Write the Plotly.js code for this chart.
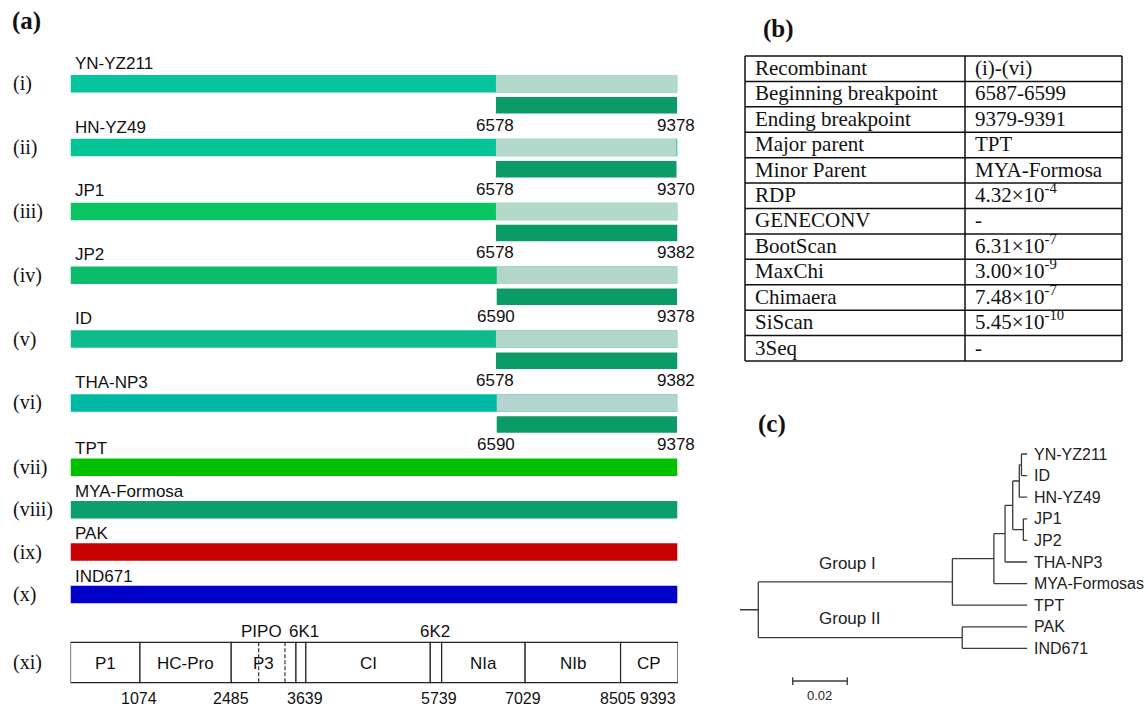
<!DOCTYPE html>
<html><head><meta charset="utf-8">
<script src="https://cdn.plot.ly/plotly-3.0.1.min.js"></script>
<style>html,body{margin:0;padding:0;background:#fff}#chart{width:1148px;height:707px}</style>
</head><body><div id="chart"></div>
<script>
// ---------------- DATA ----------------
const genomeLength = 9393;
const recombNames = ['YN-YZ211','HN-YZ49','JP1','JP2','ID','THA-NP3'];
const recombNumerals = ['(i)','(ii)','(iii)','(iv)','(v)','(vi)'];
const recombStart = [6578,6578,6578,6590,6578,6590];
const recombEnd = [9378,9370,9382,9378,9382,9378];
const recombColors = ['#06C49C','#05C596','#0AC463','#0BBD6D','#0FBA8D','#00B9A4'];
const recombLightColors = ['#B3D8CC','#B3D8CC','#B5D9C8','#B3D6C8','#B3D6CB','#B2D5D0'];
const minorColor = '#0B9B69';
const parentNames = ['TPT','MYA-Formosa','PAK','IND671'];
const parentNumerals = ['(vii)','(viii)','(ix)','(x)'];
const parentColors = ['#00C000','#0C9E6C','#C80000','#0000C8'];
const geneNames = ['P1','HC-Pro','P3','6K1','CI','6K2','NIa','NIb','CP'];
const geneStarts = [0,1074,2485,3486,3639,5563,5739,7029,8505];
const geneEnds = [1074,2485,3486,3639,5563,5739,7029,8505,9393];
const pipoBounds = [2910,3316];
const boundaryTicks = [1074,2485,3639,5739,7029,8505,9393];

const tableMethods = ['Recombinant','Beginning breakpoint','Ending breakpoint','Major parent','Minor Parent','RDP','GENECONV','BootScan','MaxChi','Chimaera','SiScan','3Seq'];
const tableValues = ['(i)-(vi)','6587-6599','9379-9391','TPT','MYA-Formosa','4.32×10<sup>-4</sup>','-','6.31×10<sup>-7</sup>','3.00×10<sup>-9</sup>','7.48×10<sup>-7</sup>','5.45×10<sup>-10</sup>','-'];

const treeNodes   = ['root','G1','G2','N3','N4','N5','NYN','NID','NJP','YN-YZ211','ID','HN-YZ49','JP1','JP2','THA-NP3','MYA-Formosas','TPT','PAK','IND671'];
const treeParents = [null,'root','root','G1','N3','N4','N5','NYN','N5','NID','NID','NYN','NJP','NJP','N4','N3','G1','G2','G2'];
const treeDepths  = [0.0067,0.0778,0.0814,0.0930,0.0971,0.0999,0.1023,0.1031,0.1038,0.1052,0.1052,0.1052,0.1052,0.1052,0.1052,0.1052,0.1052,0.1052,0.1052];
const treeGroups = ['Group I','Group II'];
const scaleBarLength = 0.02;

// ---------------- LAYOUT CONSTANTS ----------------
const W = 1148, H = 707;
const SANS = 'Liberation Sans, Arial, sans-serif';
const SERIF = 'Liberation Serif, Times New Roman, serif';
const recombY = recombNames.map((_, k) => 83.7 + 63.85 * k);
const minorY = recombY.map(y => y + 21.6);
const parentY = parentNames.map((_, k) => 467.3 + 42.4 * k);
const boxY = 662.5, boxH = 40.4;
const barEnd = Math.max(...recombEnd);

const traces = [];
const ann = [];
const noHover = {hoverinfo: 'skip'};

// recombinant major-parent backgrounds
traces.push(Object.assign({type:'bar', orientation:'h', xaxis:'x', yaxis:'y',
  y: recombY, x: recombY.map(() => barEnd), base: recombY.map(() => 0), width: 17.5,
  marker:{color: recombColors, line:{width:0}}}, noHover));
// recombinant region (light)
traces.push(Object.assign({type:'bar', orientation:'h', xaxis:'x', yaxis:'y',
  y: recombY, x: recombStart.map((s, i) => recombEnd[i] - s), base: recombStart, width: 17.5,
  marker:{color: recombLightColors, line:{width:0}}}, noHover));
// minor parent bars
traces.push(Object.assign({type:'bar', orientation:'h', xaxis:'x', yaxis:'y',
  y: minorY, x: recombStart.map((s, i) => recombEnd[i] - s), base: recombStart, width: 16.5,
  marker:{color: minorColor, line:{width:0}}}, noHover));
// parent bars
traces.push(Object.assign({type:'bar', orientation:'h', xaxis:'x', yaxis:'y',
  y: parentY, x: parentY.map(() => barEnd), base: parentY.map(() => 0), width: 17.5,
  marker:{color: parentColors, line:{width:0}}}, noHover));
// genome map segments
traces.push(Object.assign({type:'bar', orientation:'h', xaxis:'x', yaxis:'y',
  y: geneNames.map(() => boxY), x: geneStarts.map((s, i) => geneEnds[i] - s), base: geneStarts, width: boxH,
  marker:{color:'#ffffff', line:{color:'#222', width:1.2}}}, noHover));
// PIPO dashed lines
const pipoX = [], pipoY = [];
pipoBounds.forEach(b => { pipoX.push(b, b, null); pipoY.push(boxY - boxH/2, boxY + boxH/2, null); });
traces.push(Object.assign({type:'scatter', mode:'lines', xaxis:'x', yaxis:'y', x: pipoX, y: pipoY,
  line:{color:'#222', width:1.1, dash:'4px,2px'}}, noHover));

// labels of panel (a)
const aFont = {family:SANS, size:17, color:'#111'};
const rFont = {family:SERIF, size:20, color:'#111'};
function txt(x, y, text, font, o) {
  return Object.assign({x, y, text, font, showarrow:false, xref:'x', yref:'y', xanchor:'center', yanchor:'middle'}, o || {});
}
// gene labels inside box (large genes) and above box (small genes)
const geneInfo = geneNames.map((g, i) => ({g, c:(geneStarts[i] + geneEnds[i]) / 2, w: geneEnds[i] - geneStarts[i]}));
geneInfo.filter(d => d.w > 400).forEach(d => ann.push(txt(d.c, boxY + 1, d.g, aFont)));
const aboveShift = {'6K1': 3, '6K2': -1};
geneInfo.filter(d => d.w <= 400).forEach(d => ann.push(txt(d.c, 631.7, d.g, aFont, {xshift: aboveShift[d.g] || 0})));
ann.push(txt((pipoBounds[0] + pipoBounds[1]) / 2, 631.7, 'PIPO', aFont, {xshift:-10}));

recombNames.forEach((n, k) => {
  ann.push(txt(11 / W, recombY[k], recombNumerals[k], rFont, {xref:'paper', xanchor:'left'}));
  ann.push(txt(0, recombY[k] - 20.5, n, aFont, {xanchor:'left', xshift:2}));
  ann.push(txt(recombStart[k], recombY[k] + 41.5, String(recombStart[k]), aFont, {xshift:-1}));
  ann.push(txt(recombEnd[k], recombY[k] + 41.5, String(recombEnd[k]), aFont, {xshift:-1}));
});
parentNames.forEach((n, k) => {
  ann.push(txt(11 / W, parentY[k], parentNumerals[k], rFont, {xref:'paper', xanchor:'left'}));
  ann.push(txt(0, parentY[k] - 18.5, n, aFont, {xanchor:'left', xshift:2}));
});
ann.push(txt(11 / W, boxY, '(xi)', rFont, {xref:'paper', xanchor:'left'}));
const tickShift = [-1.3, 0, -1, -3, -2, -3, -20.5];
boundaryTicks.forEach((b, i) => ann.push(txt(b, 698.3, String(b), {family:SANS, size:16, color:'#111'}, {xshift: tickShift[i]})));

// panel letters
const pFont = {family:SERIF, size:25, color:'#111', weight:'bold'};
ann.push({x:10/W, y:1-21/H, xref:'paper', yref:'paper', text:'<b>(a)</b>', showarrow:false, xanchor:'left', yanchor:'middle', font:pFont});
ann.push({x:761/W, y:1-29/H, xref:'paper', yref:'paper', text:'<b>(b)</b>', showarrow:false, xanchor:'left', yanchor:'middle', font:pFont});
ann.push({x:756/W, y:1-424/H, xref:'paper', yref:'paper', text:'<b>(c)</b>', showarrow:false, xanchor:'left', yanchor:'middle', font:pFont});

// ---------------- TABLE (b) : grid drawn on a pixel-scaled axis ----------------
const tabLeft = 745, tabTop = 56, rowH = 25.42, colW = [220, 157];
const colEdges = [tabLeft, tabLeft + colW[0], tabLeft + colW[0] + colW[1]];
const nRows = tableMethods.length;
const gx = [], gy = [];
for (let r = 0; r <= nRows; r++) { gx.push(colEdges[0], colEdges[2], null); gy.push(tabTop + r * rowH, tabTop + r * rowH, null); }
colEdges.forEach(c => { gx.push(c, c, null); gy.push(tabTop, tabTop + nRows * rowH, null); });
traces.push(Object.assign({type:'scatter', mode:'lines', xaxis:'x3', yaxis:'y', x: gx, y: gy,
  line:{color:'#111', width:1.5}}, noHover));
const tFont = {family:SERIF, size:21, color:'#111'};
tableMethods.forEach((m, r) => {
  const yb = tabTop + (r + 1) * rowH + 0.5;
  ann.push({x: colEdges[0] + 8, y: yb, xref:'x3', yref:'y', text:m, showarrow:false, xanchor:'left', yanchor:'bottom', font:tFont});
  ann.push({x: colEdges[1] + 8, y: yb, xref:'x3', yref:'y', text:tableValues[r], showarrow:false, xanchor:'left', yanchor:'bottom', font:tFont});
});

// ---------------- TREE (c) ----------------
const idx = {}; treeNodes.forEach((n, i) => idx[n] = i);
const children = treeNodes.map(() => []);
treeParents.forEach((p, i) => { if (p !== null) children[idx[p]].push(i); });
const yPos = new Array(treeNodes.length);
let leafCount = 0;
function layY(i) {
  if (children[i].length === 0) { yPos[i] = leafCount++; return yPos[i]; }
  const ys = children[i].map(layY);
  yPos[i] = (Math.min(...ys) + Math.max(...ys)) / 2;
  return yPos[i];
}
layY(0);
const tx = [], ty = [];
tx.push(0, treeDepths[0], null); ty.push(yPos[0], yPos[0], null);
treeNodes.forEach((n, i) => {
  const p = treeParents[i];
  if (p !== null) { tx.push(treeDepths[idx[p]], treeDepths[i], null); ty.push(yPos[i], yPos[i], null); }
  if (children[i].length) {
    const cy = children[i].map(c => yPos[c]);
    tx.push(treeDepths[i], treeDepths[i], null); ty.push(Math.min(...cy), Math.max(...cy), null);
  }
});
traces.push(Object.assign({type:'scatter', mode:'lines', xaxis:'x2', yaxis:'y2', x: tx, y: ty,
  line:{color:'#3a3a3a', width:1.3}}, noHover));
const leafFont = {family:SANS, size:16, color:'#222'};
treeNodes.forEach((n, i) => {
  if (children[i].length === 0) ann.push({x: treeDepths[i], y: yPos[i], xref:'x2', yref:'y2', text:n, showarrow:false,
    xanchor:'left', yanchor:'middle', xshift:5, font:leafFont});
});
ann.push({x:0.0282, y: yPos[idx['G1']] - 0.87, xref:'x2', yref:'y2', text:treeGroups[0], showarrow:false, xanchor:'left', yanchor:'middle', font:{family:SANS, size:17, color:'#222'}});
ann.push({x:0.0282, y: yPos[idx['G2']] - 0.9, xref:'x2', yref:'y2', text:treeGroups[1], showarrow:false, xanchor:'left', yanchor:'middle', font:{family:SANS, size:17, color:'#222'}});
const sb0 = 0.0193, sbY = 10.51;
traces.push(Object.assign({type:'scatter', mode:'lines', xaxis:'x2', yaxis:'y2',
  x:[sb0, sb0 + scaleBarLength, null, sb0, sb0, null, sb0 + scaleBarLength, sb0 + scaleBarLength],
  y:[sbY, sbY, null, sbY - 0.18, sbY + 0.18, null, sbY - 0.18, sbY + 0.18],
  line:{color:'#3a3a3a', width:1.3}}, noHover));
ann.push({x: sb0 + scaleBarLength / 2, y: 11.16, xref:'x2', yref:'y2', text: String(scaleBarLength), showarrow:false,
  xanchor:'center', yanchor:'middle', font:{family:SANS, size:13, color:'#222'}});

const hidden = {visible:false, showgrid:false, zeroline:false, fixedrange:true};
const layout = {
  width: W, height: H, margin:{l:0, r:0, t:0, b:0, pad:0},
  paper_bgcolor:'#fff', plot_bgcolor:'rgba(0,0,0,0)', showlegend:false, barmode:'overlay',
  xaxis: Object.assign({domain:[70.5/W, 678/W], range:[0, genomeLength], anchor:'y'}, hidden),
  yaxis: Object.assign({domain:[0, 1], range:[H, 0], anchor:'x'}, hidden),
  xaxis2: Object.assign({domain:[740/W, 1], range:[0, 408/2730], anchor:'y2'}, hidden),
  yaxis2: Object.assign({domain:[1 - 702.4/H, 1 - 432.4/H], range:[11.5, -1], anchor:'x2'}, hidden),
  xaxis3: Object.assign({domain:[0, 1], range:[0, W], anchor:'y'}, hidden),
  annotations: ann
};
Plotly.newPlot('chart', traces, layout, {displayModeBar:false, staticPlot:true});
</script></body></html>
